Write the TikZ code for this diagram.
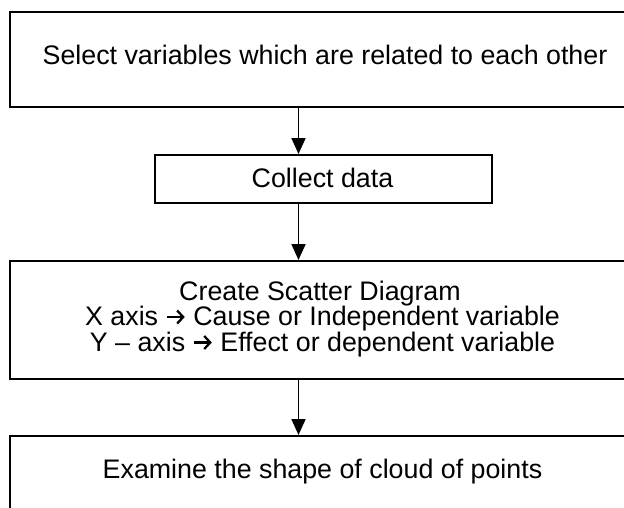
\documentclass[tikz,border=0pt]{standalone}
\usepackage{fontspec}
\setmainfont{Liberation Sans}
\usetikzlibrary{arrows.meta}
\newcommand{\rarr}{\tikz[x=1pt,y=1pt,baseline=0pt]\draw[line width=2.3pt,-{Straight Barb[length=6pt,width=13pt,line width=2.3pt]}] (0,8.5) -- (18,8.5);}
\begin{document}
\begin{tikzpicture}[x=1pt,y=-1pt,
  box/.style={draw=black, line width=1.7pt, rectangle, inner sep=0pt, anchor=north west},
  txt/.style={font=\fontsize{26.8}{30.4}\selectfont, inner sep=0pt, anchor=base},
  arr/.style={line width=1.8pt, -{Triangle[length=16pt,width=14pt]}}]
\useasboundingbox (0,0) rectangle (624,507);
\clip (0,0) rectangle (624,507);
\fill[white] (0,0) rectangle (624,507);
\node[box, minimum width=627pt, minimum height=95pt] (b1) at (9,11) {};
\node[box, minimum width=337pt, minimum height=48pt] (b2) at (154,154) {};
\node[box, minimum width=627pt, minimum height=118pt] (b3) at (9,260) {};
\node[box, minimum width=627pt, minimum height=120pt] (b4) at (9,435) {};
\coordinate (ax) at (298.5,0);
\node[txt] (t1) at (325,64.5) {Select variables which are related to each other};
\node[txt] (t2) at (322.5,187.5) {Collect data};
\node[txt] (t3a) at (320,300) {Create Scatter Diagram};
\node[txt] (t3b) at (322.5,325.5) {X axis \rarr\ Cause or Independent variable};
\node[txt] (t3c) at (322.5,351) {Y – axis \rarr\ Effect or dependent variable};
\node[txt] (t4) at (322.5,478.5) {Examine the shape of cloud of points};
\draw[arr] (b1.south -| ax) -- (b2.north -| ax);
\draw[arr] (b2.south -| ax) -- (b3.north -| ax);
\draw[arr] (b3.south -| ax) -- (b4.north -| ax);
\end{tikzpicture}
\end{document}
